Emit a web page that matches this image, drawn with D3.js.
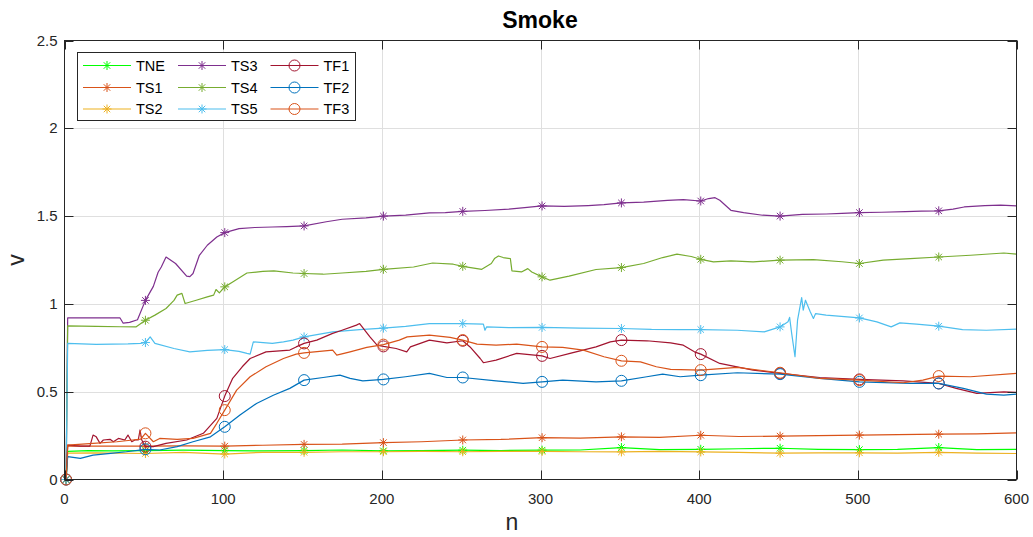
<!DOCTYPE html>
<html>
<head>
<meta charset="utf-8">
<script src="https://cdn.jsdelivr.net/npm/d3@7"></script>
<style>
  body { margin: 0; background: #fff; }
  svg { display: block; font-family: "Liberation Sans", Arial, sans-serif; }
</style>
</head>
<body>
<svg id="chart" width="1033" height="537"></svg>
<script>
// values, [n, v]
var tne = [[1,0],[2,0.16],[15,0.165],[30,0.163],[51,0.165],[75,0.167],[101,0.165],[125,0.163],[151,0.165],[175,0.168],[201,0.163],[225,0.165],[251,0.167],[275,0.165],[301,0.167],[325,0.168],[351,0.182],[375,0.17],[401,0.172],[425,0.175],[451,0.178],[475,0.172],[501,0.17],[525,0.172],[551,0.182],[575,0.17],[600,0.172]];
var ts1 = [[1,0],[2,0.19],[25,0.19],[51,0.19],[75,0.192],[101,0.19],[125,0.195],[151,0.2],[175,0.202],[201,0.21],[225,0.215],[251,0.225],[275,0.228],[301,0.238],[325,0.236],[351,0.243],[375,0.24],[401,0.252],[425,0.245],[451,0.247],[475,0.25],[501,0.253],[525,0.255],[551,0.258],[575,0.26],[600,0.265]];
var ts2 = [[1,0],[2,0.15],[20,0.152],[51,0.148],[75,0.155],[101,0.145],[125,0.155],[151,0.155],[175,0.158],[201,0.158],[225,0.16],[251,0.158],[275,0.16],[301,0.16],[325,0.158],[351,0.157],[375,0.16],[401,0.157],[425,0.155],[451,0.15],[475,0.152],[501,0.152],[525,0.15],[551,0.155],[575,0.15],[600,0.148]];
var ts3 = [[1,0],[2,0.92],[20,0.92],[35,0.92],[37,0.89],[41,0.895],[46,0.91],[51,1.02],[56,1.1],[59,1.18],[61,1.21],[64,1.267],[70,1.23],[77,1.158],[79,1.155],[81,1.173],[85,1.277],[90,1.334],[96,1.381],[101,1.406],[110,1.429],[120,1.435],[131,1.438],[140,1.44],[151,1.444],[165,1.468],[175,1.482],[190,1.49],[201,1.5],[215,1.505],[230,1.518],[240,1.52],[251,1.527],[265,1.532],[280,1.54],[290,1.548],[301,1.558],[315,1.555],[330,1.56],[340,1.565],[351,1.575],[365,1.58],[380,1.59],[390,1.594],[401,1.586],[406,1.6],[410,1.605],[413,1.59],[420,1.533],[428,1.52],[440,1.505],[451,1.5],[465,1.51],[480,1.512],[490,1.515],[501,1.52],[515,1.522],[530,1.525],[540,1.528],[551,1.53],[560,1.54],[567,1.552],[580,1.56],[590,1.562],[600,1.558]];
var ts4 = [[1,0],[2,0.875],[20,0.872],[35,0.87],[45,0.869],[51,0.907],[57,0.936],[64,0.974],[69,1.02],[71,1.05],[74,1.06],[76,1.002],[83,1.021],[90,1.04],[94,1.05],[95.5,1.082],[97.6,1.063],[101,1.097],[106,1.125],[115,1.176],[125,1.185],[132,1.188],[144,1.176],[151,1.173],[163,1.169],[175,1.176],[190,1.185],[201,1.197],[220,1.21],[232,1.233],[245,1.226],[251,1.214],[263,1.197],[269,1.23],[271,1.258],[273.5,1.273],[276.5,1.264],[281,1.258],[282,1.188],[288,1.182],[292,1.201],[294.5,1.182],[301,1.154],[306,1.135],[318,1.158],[335,1.196],[351,1.207],[365,1.23],[377,1.264],[386,1.283],[395,1.27],[401,1.254],[409,1.239],[420,1.245],[434,1.239],[451,1.249],[472,1.252],[490,1.24],[501,1.23],[516,1.249],[533,1.258],[551,1.267],[571,1.277],[592,1.29],[600,1.283]];
var ts5 = [[1,0],[2,0.775],[20,0.77],[40,0.772],[48,0.775],[51,0.78],[54,0.812],[57,0.775],[69,0.746],[79,0.727],[90,0.735],[101,0.74],[110,0.73],[115,0.718],[117,0.714],[119,0.784],[131,0.775],[138,0.784],[144,0.794],[151,0.812],[169,0.841],[186,0.854],[201,0.862],[215,0.872],[230,0.888],[251,0.888],[264,0.885],[265,0.85],[266,0.869],[280,0.865],[301,0.866],[325,0.862],[351,0.86],[370,0.855],[388,0.854],[401,0.854],[424,0.85],[441,0.841],[451,0.869],[456,0.898],[457,0.923],[458.3,0.832],[460.4,0.699],[462,0.907],[464.6,1.036],[465.6,0.964],[467,1.021],[470,0.955],[472,0.917],[473.4,0.945],[480,0.936],[501,0.92],[512,0.898],[521,0.869],[526.5,0.892],[537,0.885],[551,0.873],[566,0.854],[581,0.85],[600,0.856]];
var tf1 = [[1,0],[2,0.196],[10,0.19],[16,0.19],[18,0.253],[20,0.243],[22.4,0.206],[24.5,0.225],[28.7,0.229],[30.8,0.215],[34,0.234],[38,0.225],[40,0.253],[42.4,0.215],[44.4,0.225],[46.5,0.225],[47.6,0.282],[48.7,0.225],[51,0.187],[56,0.187],[64,0.206],[77,0.225],[87.5,0.263],[96,0.348],[101,0.475],[106,0.576],[112,0.642],[117,0.689],[127,0.727],[142,0.737],[146,0.755],[151,0.775],[159,0.794],[169,0.832],[174,0.847],[184,0.879],[186,0.888],[192.5,0.812],[197,0.765],[201,0.758],[209,0.746],[215.7,0.727],[218,0.755],[230,0.794],[241,0.778],[251,0.79],[255.6,0.755],[262,0.689],[264,0.665],[272,0.68],[285,0.718],[301,0.704],[306,0.689],[318.6,0.718],[335,0.755],[344,0.784],[351,0.794],[367,0.79],[382,0.778],[390,0.765],[397,0.727],[401,0.714],[413,0.661],[434,0.623],[451,0.604],[476,0.581],[501,0.57],[528.6,0.562],[551,0.547],[562,0.519],[575,0.49],[592,0.499],[600,0.496]];
var tf2 = [[1,0],[2,0.13],[10,0.12],[18,0.139],[29,0.149],[39,0.158],[51,0.172],[60,0.168],[71,0.187],[81,0.215],[92,0.243],[101,0.30],[110.6,0.367],[121,0.433],[131.6,0.48],[142,0.519],[151,0.566],[163,0.581],[173.6,0.594],[180,0.576],[188,0.562],[201,0.57],[215,0.585],[230,0.604],[241,0.581],[251,0.581],[272,0.562],[289,0.547],[301,0.556],[314,0.566],[335,0.556],[351,0.562],[367,0.585],[377,0.60],[388,0.585],[401,0.594],[424,0.608],[451,0.60],[476,0.576],[501,0.556],[533,0.547],[551,0.547],[566.5,0.519],[581,0.486],[592,0.48],[600,0.486]];
var tf3 = [[1,0],[2,0.196],[18,0.206],[33,0.215],[43,0.225],[48,0.23],[51,0.263],[56,0.215],[60,0.234],[71,0.229],[81,0.234],[92,0.263],[96,0.32],[101,0.395],[108.5,0.509],[117,0.585],[127,0.642],[138,0.689],[146,0.714],[151,0.721],[169,0.737],[171.6,0.708],[180,0.727],[190.5,0.752],[201,0.768],[211,0.794],[216,0.812],[230,0.822],[243,0.809],[251,0.794],[260,0.771],[272,0.765],[285,0.771],[301,0.755],[314,0.752],[327,0.737],[340,0.699],[351,0.676],[363,0.67],[373,0.642],[382,0.627],[401,0.623],[424,0.638],[451,0.608],[476,0.576],[501,0.566],[528.6,0.551],[541,0.566],[551,0.589],[571,0.585],[600,0.604]];

var seriesNames = ["TNE", "TS1", "TS2", "TS3", "TS4", "TS5", "TF1", "TF2", "TF3"];
var seriesData = [tne, ts1, ts2, ts3, ts4, ts5, tf1, tf2, tf3];
var xTicks = [0, 100, 200, 300, 400, 500, 600];
var yTicks = [0, 0.5, 1, 1.5, 2, 2.5];
var yTickLabels = ["0", "0.5", "1", "1.5", "2", "2.5"];

var colors = ["#00ff00", "#d95319", "#edb120", "#7e2f8e", "#77ac30", "#4dbeee", "#a2142f", "#0072bd", "#d95319"];
var markers = ["star", "star", "star", "star", "star", "star", "circle", "circle", "circle"];

var axL = 64.5, axR = 1016.5, axT = 40.5, axB = 479.5;
var ink = "#262626";

var svg = d3.select("#chart");

var x = d3.scaleLinear().domain([0, 600]).range([axL, axR]);
var y = d3.scaleLinear().domain([0, 2.5]).range([axB, axT]);

// grid
svg.append("g").selectAll("line")
  .data(xTicks.slice(1, -1))
  .enter().append("line")
    .attr("x1", function(d){ return Math.round(x(d)) + 0.5 }).attr("x2", function(d){ return Math.round(x(d)) + 0.5 })
    .attr("y1", axT).attr("y2", axB)
    .style("stroke", "#dfdfdf").style("stroke-width", 1)
svg.append("g").selectAll("line")
  .data(yTicks.slice(1, -1))
  .enter().append("line")
    .attr("y1", function(d){ return Math.round(y(d)) + 0.5 }).attr("y2", function(d){ return Math.round(y(d)) + 0.5 })
    .attr("x1", axL).attr("x2", axR)
    .style("stroke", "#dfdfdf").style("stroke-width", 1)

function starPath(s) {
  var a = s * 0.72;
  return "M" + (-s) + ",0H" + s + "M0," + (-s) + "V" + s +
    "M" + (-a) + "," + (-a) + "L" + a + "," + a + "M" + (-a) + "," + a + "L" + a + "," + (-a);
}

function drawMarker(g, type, color, px, py) {
  if (type == "star") {
    g.append("path").attr("d", starPath(4.5)).attr("transform", "translate(" + px + "," + py + ")")
      .style("fill", "none").style("stroke", color).style("stroke-width", 1)
  } else {
    g.append("circle").attr("cx", px).attr("cy", py).attr("r", 5.5)
      .style("fill", "none").style("stroke", color).style("stroke-width", 1)
  }
}

var line = d3.line()
  .x(function(d){ return x(d[0]) })
  .y(function(d){ return y(d[1]) })

var plot = svg.append("g")
seriesData.forEach(function(data, i) {
  var g = plot.append("g")
  g.append("path")
    .datum(data)
    .attr("d", line)
    .style("fill", "none")
    .style("stroke", colors[i])
    .style("stroke-width", 1.2)
    .style("stroke-linejoin", "round")
  // markers every 50 samples, starting at n = 1
  data.filter(function(d){ return (d[0] - 1) % 50 == 0 }).forEach(function(d) {
    drawMarker(g, markers[i], colors[i], x(d[0]), y(d[1]))
  })
})

// box
svg.append("rect")
  .attr("x", axL).attr("y", axT).attr("width", axR - axL).attr("height", axB - axT)
  .style("fill", "none").style("stroke", ink).style("stroke-width", 1)

// ticks on all four sides
var tl = 9;
xTicks.forEach(function(t) {
  var px = Math.round(x(t)) + 0.5;
  svg.append("line").attr("x1", px).attr("x2", px).attr("y1", axB).attr("y2", axB - tl).style("stroke", ink)
  svg.append("line").attr("x1", px).attr("x2", px).attr("y1", axT).attr("y2", axT + tl).style("stroke", ink)
  svg.append("text")
    .attr("x", x(t)).attr("y", axB + 24)
    .attr("text-anchor", "middle")
    .style("font-size", "15px").style("fill", ink)
    .text(t)
})
yTicks.forEach(function(t, i) {
  var py = Math.round(y(t)) + 0.5;
  svg.append("line").attr("y1", py).attr("y2", py).attr("x1", axL).attr("x2", axL + tl).style("stroke", ink)
  svg.append("line").attr("y1", py).attr("y2", py).attr("x1", axR).attr("x2", axR - tl).style("stroke", ink)
  svg.append("text")
    .attr("x", axL - 7).attr("y", y(t) + 5)
    .attr("text-anchor", "end")
    .style("font-size", "15px").style("fill", ink)
    .text(yTickLabels[i])
})

// title and axis labels
svg.append("text")
  .attr("x", 540).attr("y", 28)
  .attr("text-anchor", "middle")
  .style("font-size", "23px").style("font-weight", "bold").style("fill", "#000")
  .text("Smoke")
svg.append("text")
  .attr("x", 512).attr("y", 530)
  .attr("text-anchor", "middle")
  .style("font-size", "23px").style("fill", ink)
  .text("n")
svg.append("text")
  .attr("transform", "translate(24," + ((axT + axB) / 2) + ") rotate(-90)")
  .attr("text-anchor", "middle")
  .style("font-size", "23px").style("fill", ink)
  .text("v")

// legend
var legend = svg.append("g")
legend.append("rect")
  .attr("x", 77.5).attr("y", 52.5).attr("width", 278).attr("height", 68)
  .style("fill", "#fff").style("stroke", ink).style("stroke-width", 1)

var colX = [83, 178, 270.5];
var rowY = [65.5, 87.5, 109];
seriesNames.forEach(function(name, i) {
  var cx = colX[Math.floor(i / 3)], cy = rowY[i % 3];
  legend.append("line")
    .attr("x1", cx).attr("x2", cx + 48).attr("y1", cy).attr("y2", cy)
    .style("stroke", colors[i]).style("stroke-width", 1.2)
  drawMarker(legend, markers[i], colors[i], cx + 24, cy)
  legend.append("text")
    .attr("x", cx + 53).attr("y", cy + 5)
    .style("font-size", "14.5px").style("fill", "#000")
    .text(name)
})
</script>
</body>
</html>
